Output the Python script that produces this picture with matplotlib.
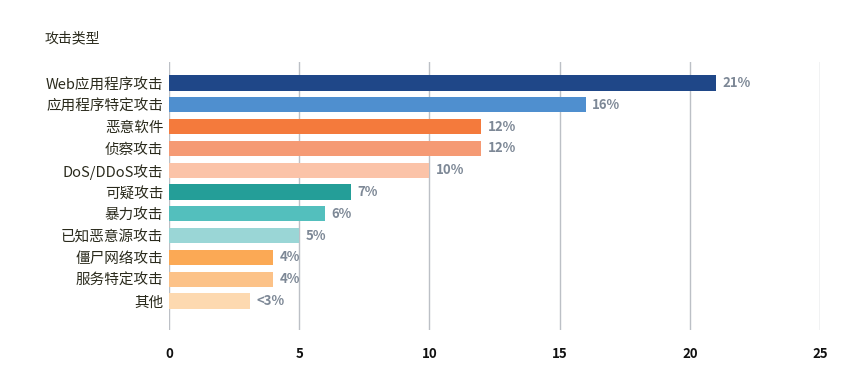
import matplotlib
matplotlib.use("Agg")
import matplotlib.pyplot as plt

plt.rcParams['font.family'] = ['Noto Sans CJK SC', 'DejaVu Sans']

# data
categories = ['Web应用程序攻击', '应用程序特定攻击', '恶意软件', '侦察攻击', 'DoS/DDoS攻击',
              '可疑攻击', '暴力攻击', '已知恶意源攻击', '僵尸网络攻击', '服务特定攻击', '其他']
values = [21, 16, 12, 12, 10, 7, 6, 5, 4, 4, 3.1]
value_labels = ['21%', '16%', '12%', '12%', '10%', '7%', '6%', '5%', '4%', '4%', '<3%']
colors = ['#1f4788', '#4f8fcf', '#f47a3c', '#f59a74', '#fbc3a8',
          '#249e98', '#53bfbd', '#9ad6d6', '#fba955', '#fcc288', '#fdd9b0']

fig = plt.figure(figsize=(8.64, 3.69), dpi=100)
ax = fig.add_axes([0.1956, 0.1057, 0.7535, 0.7263])

y = list(range(len(categories)))
ax.barh(y, values, height=0.7, color=colors, zorder=2)

for yi, v, lab in zip(y, values, value_labels):
    ax.text(v + 0.25, yi, lab, va='center', ha='left', fontsize=9.5,
            fontweight='bold', color='#7d8896')

ax.set_xlim(0, 25)
ax.set_ylim(len(categories) - 1 + 1.33, -0.96)
ax.set_xticks([0, 5, 10, 15, 20, 25])
ax.set_yticks(y)
ax.set_yticklabels(categories, fontsize=10.5, color='#2a2a1c', fontweight='medium')
ax.tick_params(axis='both', length=0)
ax.tick_params(axis='x', pad=12, labelsize=9.5, labelcolor='#111111')
for t in ax.get_xticklabels():
    t.set_fontweight('bold')
ax.tick_params(axis='y', pad=4)

ax.grid(axis='x', color='#bcc0c6', linewidth=1, zorder=0)
for s in ax.spines.values():
    s.set_visible(False)

fig.text(45 / 864, 1 - 38 / 369, '攻击类型', fontsize=10, color='#2a2a1c',
         fontweight='medium', va='center', ha='left')

fig.savefig('out.png', dpi=100, facecolor='white')
